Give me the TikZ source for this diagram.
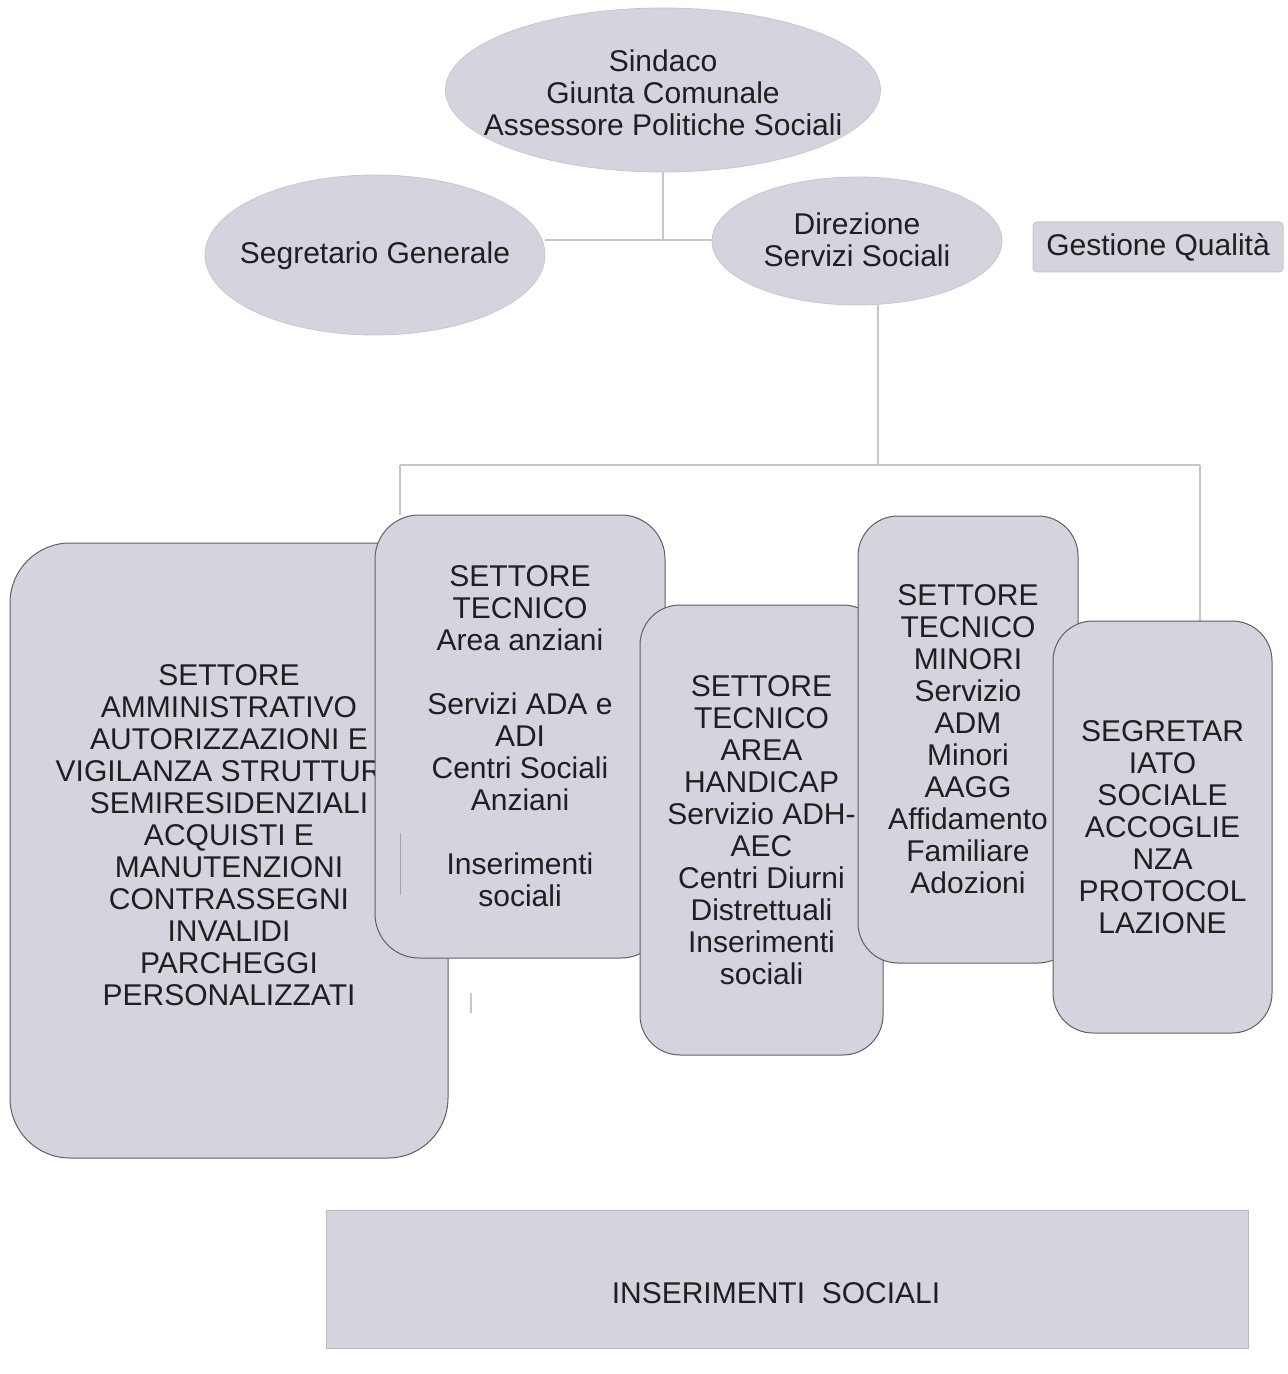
\documentclass[tikz,border=0pt]{standalone}
\usepackage{fontspec}
\setmainfont{Liberation Sans}
\usetikzlibrary{shapes.geometric,backgrounds}
\definecolor{boxfill}{RGB}{213,211,222}
\definecolor{boxline}{RGB}{95,95,102}
\definecolor{connline}{RGB}{198,198,204}
\tikzset{
  lbl/.style={font=\fontsize{15pt}{16pt}\selectfont, align=center, inner sep=0pt, text=black!88},
  oval/.style={ellipse, fill=boxfill, draw=boxfill!85!gray, line width=0.4pt, inner sep=0pt},
  sbox/.style={rectangle, fill=boxfill, draw=boxline, line width=0.5pt, lbl},
  conn/.style={draw=connline, line width=0.6pt},
}
\begin{document}
\begin{tikzpicture}[x=0.5pt,y=-0.5pt]
\useasboundingbox (0,0) rectangle (1288,1374);

% top level
\node[oval, minimum width=217.5pt, minimum height=82pt] (sind) at (663,90) {};
\node[lbl] (sindt) at (663,93) {Sindaco\\Giunta Comunale\\Assessore Politiche Sociali};
\node[oval, minimum width=170pt, minimum height=80pt] (segr) at (375,255) {};
\node[lbl] (segrt) at (375,256) {Segretario Generale};
\node[oval, minimum width=145pt, minimum height=64pt] (dir) at (857,241) {};
\node[lbl] (dirt) at (857,240) {Direzione\\Servizi Sociali};
\node[sbox, rounded corners=2pt, draw=gray!45, minimum width=125pt, minimum height=25pt] (qual) at (1158,247)
  {Gestione Qualità};

% sector boxes (drawn in overlap order)
\node[sbox, rounded corners=30pt, minimum width=219pt, minimum height=307.5pt] (b1) at (229,850.5) {};
\node[lbl] (b1t) at (229,835)
  {SETTORE\\AMMINISTRATIVO\\AUTORIZZAZIONI E\\VIGILANZA STRUTTURE\\SEMIRESIDENZIALI\\ACQUISTI E\\MANUTENZIONI\\CONTRASSEGNI\\INVALIDI\\PARCHEGGI\\PERSONALIZZATI};
\node[sbox, rounded corners=22pt, minimum width=145pt, minimum height=221.5pt] (b2) at (520,736.5)
  {SETTORE\\TECNICO\\Area anziani\\[16pt]Servizi ADA e\\ADI\\Centri Sociali\\Anziani\\[16pt]Inserimenti\\sociali};
\node[sbox, rounded corners=20pt, minimum width=121.5pt, minimum height=225pt] (b3) at (761.5,830)
  {SETTORE\\TECNICO\\AREA\\HANDICAP\\Servizio ADH-\\AEC\\Centri Diurni\\Distrettuali\\Inserimenti\\sociali};
\node[sbox, rounded corners=20pt, minimum width=110pt, minimum height=223.5pt] (b4) at (968,739.5)
  {SETTORE\\TECNICO\\MINORI\\Servizio\\ADM\\Minori\\AAGG\\Affidamento\\Familiare\\Adozioni};
\node[sbox, rounded corners=20pt, minimum width=109.5pt, minimum height=206pt] (b5) at (1162.5,827)
  {SEGRETAR\\IATO\\SOCIALE\\ACCOGLIE\\NZA\\PROTOCOL\\LAZIONE};

% bottom box
\node[sbox, draw=gray!55, minimum width=461pt, minimum height=69pt] (ins) at (787,1279) {};
\node[lbl] (inst) at (776,1293) {INSERIMENTI\ \ SOCIALI};

% connectors
\coordinate (j1) at (663,240);
\coordinate (j2) at (878,465);
\coordinate (hl) at (400,465);
\coordinate (hr) at (1200,465);
\begin{pgfonlayer}{background}
\draw[conn] (sind.south) -- (j1);
\draw[conn] (segr.east |- j1) -- (dir.west |- j1);
\draw[conn] (dir.south -| j2) -- (j2);
\draw[conn] (hl) -- (hr);
\draw[conn] (hl) -- (hl |- b2.north);
\draw[conn] (hr) -- (hr |- b5.north);
\end{pgfonlayer}

% faint marks
\coordinate (m1) at (400,833);
\coordinate (m2) at (400,895);
\coordinate (m3) at (471,993);
\coordinate (m4) at (471,1013);
\draw[draw=gray!70, line width=0.5pt] (m1) -- (m2);
\draw[conn] (m3) -- (m4);
\end{tikzpicture}
\end{document}
